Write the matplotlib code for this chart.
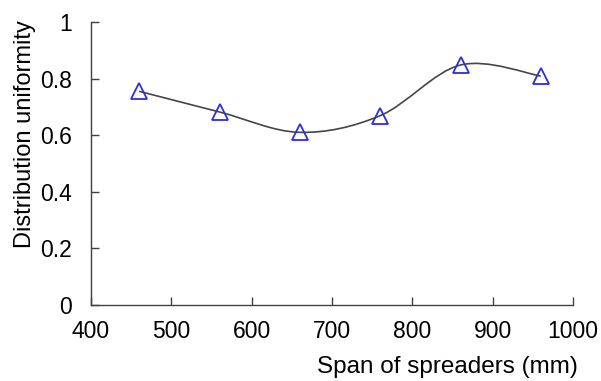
import numpy as np
import matplotlib
matplotlib.use("Agg")
import matplotlib.pyplot as plt
from matplotlib.path import Path
from matplotlib.patches import PathPatch
from matplotlib.ticker import FuncFormatter

plt.rcParams['font.family'] = ['Liberation Sans', 'DejaVu Sans']

span_mm = [460, 560, 660, 760, 860, 960]
uniformity = [0.755, 0.682, 0.610, 0.669, 0.848, 0.809]

x_ticks = [400, 500, 600, 700, 800, 900, 1000]
y_ticks = [0, 0.2, 0.4, 0.6, 0.8, 1.0]

fig = plt.figure(figsize=(6.01, 3.81), dpi=100)
ax = fig.add_axes([0.1514, 0.1995, 0.802, 0.7428])

# Smoothed connecting curve (cubic Bezier segments, tension 1/6)
pts = np.column_stack([span_mm, uniformity]).astype(float)
ext = np.vstack([pts[0], pts, pts[-1]])
verts = [tuple(pts[0])]
codes = [Path.MOVETO]
for i in range(len(pts) - 1):
    p0, p1, p2, p3 = ext[i], ext[i + 1], ext[i + 2], ext[i + 3]
    c1 = p1 + (p2 - p0) / 6.0
    c2 = p2 - (p3 - p1) / 6.0
    verts += [tuple(c1), tuple(c2), tuple(p2)]
    codes += [Path.CURVE4] * 3
curve = PathPatch(Path(verts, codes), facecolor='none', edgecolor='#454545',
                  linewidth=1.2, zorder=2)
ax.add_patch(curve)

ax.plot(span_mm, uniformity, linestyle='none', marker='^', markersize=11.3,
        markerfacecolor='none', markeredgecolor='#2e2ed8', markeredgewidth=1.3,
        zorder=3)

ax.set_xlim(400, 1000)
ax.set_ylim(0, 1)
ax.set_xticks(x_ticks)
ax.set_yticks(y_ticks)
ax.yaxis.set_major_formatter(FuncFormatter(lambda v, p: f"{v:g}"))

for side in ('top', 'right'):
    ax.spines[side].set_visible(False)
for side in ('left', 'bottom'):
    ax.spines[side].set_color('#404040')
    ax.spines[side].set_linewidth(1.0)

ax.tick_params(direction='in', length=5.5, width=1.0, color='#404040',
               labelsize=16.5, labelcolor='black')
ax.tick_params(axis='x', pad=11)
ax.tick_params(axis='y', pad=14)

ax.set_xlabel('Span of spreaders (mm)', fontsize=17.5, loc='right')
ax.xaxis.set_label_coords(1.010, -0.182)
ax.set_ylabel('Distribution uniformity', fontsize=17, loc='top')
ax.yaxis.set_label_coords(-0.114, 1.005)

fig.savefig('out.png', dpi=100)
